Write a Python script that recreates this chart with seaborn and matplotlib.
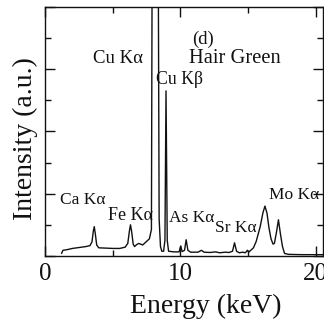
import matplotlib
matplotlib.use("Agg")
import matplotlib.pyplot as plt
import seaborn as sns
import pandas as pd
from matplotlib.ticker import MultipleLocator

# ---- data ----
energy_kev = [1.20, 1.30, 1.60, 2.00, 2.50, 3.00, 3.30, 3.45, 3.55, 3.62, 3.70, 3.80, 3.95,
              4.50, 5.00, 5.50, 5.90, 6.10, 6.22, 6.30, 6.38, 6.50, 6.60, 6.75, 6.90, 7.05,
              7.20, 7.45, 7.70, 7.85, 7.93, 8.32, 8.42, 8.52, 8.62, 8.75, 8.85, 8.93, 9.02,
              9.12, 9.50, 9.90, 10.02, 10.12, 10.30, 10.42, 10.55, 10.75, 11.30, 11.55, 11.75,
              12.20, 12.60, 12.90, 13.30, 13.60, 13.85, 14.00, 14.15, 14.35, 14.60, 14.80,
              14.95, 15.05, 15.20, 15.40, 15.60, 15.90, 16.10, 16.25, 16.40, 16.55, 16.70,
              16.85, 16.95, 17.10, 17.25, 17.40, 17.55, 17.70, 18.00, 19.00, 20.00, 20.60]
intensity = [0.08, 0.18, 0.20, 0.24, 0.27, 0.30, 0.33, 0.45, 0.80, 0.94, 0.70, 0.35, 0.26,
             0.25, 0.24, 0.24, 0.28, 0.40, 0.80, 1.00, 0.80, 0.38, 0.30, 0.36, 0.40, 0.38,
             0.35, 0.45, 0.55, 0.85, 14.0, 14.0, 1.20, 0.30, 0.15, 0.15, 0.50, 5.30, 0.50,
             0.15, 0.13, 0.13, 0.32, 0.14, 0.18, 0.52, 0.18, 0.12, 0.12, 0.18, 0.12,
             0.11, 0.13, 0.10, 0.12, 0.11, 0.15, 0.42, 0.15, 0.10, 0.12, 0.10,
             0.18, 0.12, 0.18, 0.26, 0.46, 0.94, 1.38, 1.60, 1.38, 0.90, 0.55,
             0.38, 0.40, 0.75, 1.16, 0.70, 0.30, 0.08, 0.05, 0.04, 0.04, 0.04]

x_ticks = [0, 10, 20]
x_tick_labels = ["0", "10", "20"]

peak_labels = ["Cu Kα", "(d)", "Hair Green", "Cu Kβ", "Ca Kα", "Fe Kα", "As Kα", "Sr Kα", "Mo Kα"]
peak_label_x = [3.55, 10.85, 10.60, 8.22, 1.05, 4.65, 9.15, 12.55, 16.55]
peak_label_y = [6.33, 6.95, 6.33, 5.66, 1.80, 1.30, 1.22, 0.90, 1.96]
peak_label_size = [13.5, 13.5, 14.8, 12.8, 12.5, 13, 12.5, 12.5, 12.5]

df = pd.DataFrame({"Energy": energy_kev, "Intensity": intensity})

sns.set_theme(style="ticks")
plt.rcParams["font.family"] = ["Liberation Serif", "DejaVu Serif"]

fig = plt.figure(figsize=(3.24, 3.26), dpi=100)
ax = fig.add_axes([0.140, 0.215, 0.857, 0.764])

sns.lineplot(data=df, x="Energy", y="Intensity", sort=False, estimator=None,
             color="#111111", linewidth=1.0, ax=ax)

ax.set_xlim(0, 20.55)
ax.set_ylim(0, 8)

ax.set_xticks(x_ticks)
ax.set_xticklabels(x_tick_labels)
ax.xaxis.set_minor_locator(MultipleLocator(5))
ax.yaxis.set_major_locator(MultipleLocator(2))
ax.yaxis.set_minor_locator(MultipleLocator(1))
ax.set_yticklabels([])

ax.tick_params(axis="both", which="major", direction="in", length=7, width=1.0,
               top=True, right=True, color="#111111")
ax.tick_params(axis="both", which="minor", direction="in", length=4.5, width=1.0,
               top=True, right=True, color="#111111")
ax.tick_params(axis="x", which="major", labelsize=18, pad=5, labelcolor="#111111")
ax.tick_params(axis="y", which="both", labelleft=False)

for s in ax.spines.values():
    s.set_linewidth(1.0)
    s.set_color("#111111")

ax.set_xlabel("Energy (keV)", fontsize=20, color="#111111")
ax.set_ylabel("Intensity (a.u.)", fontsize=20, color="#111111")
ax.xaxis.set_label_coords(0.578, -0.152)
ax.yaxis.set_label_coords(-0.028, 0.47)

for t, x, y, fs in zip(peak_labels, peak_label_x, peak_label_y, peak_label_size):
    ax.text(x, y, t, fontsize=fs, ha="left", va="center", color="#111111")

ax.set_facecolor("white")
fig.patch.set_facecolor("white")
fig.savefig("out.png", dpi=100)
